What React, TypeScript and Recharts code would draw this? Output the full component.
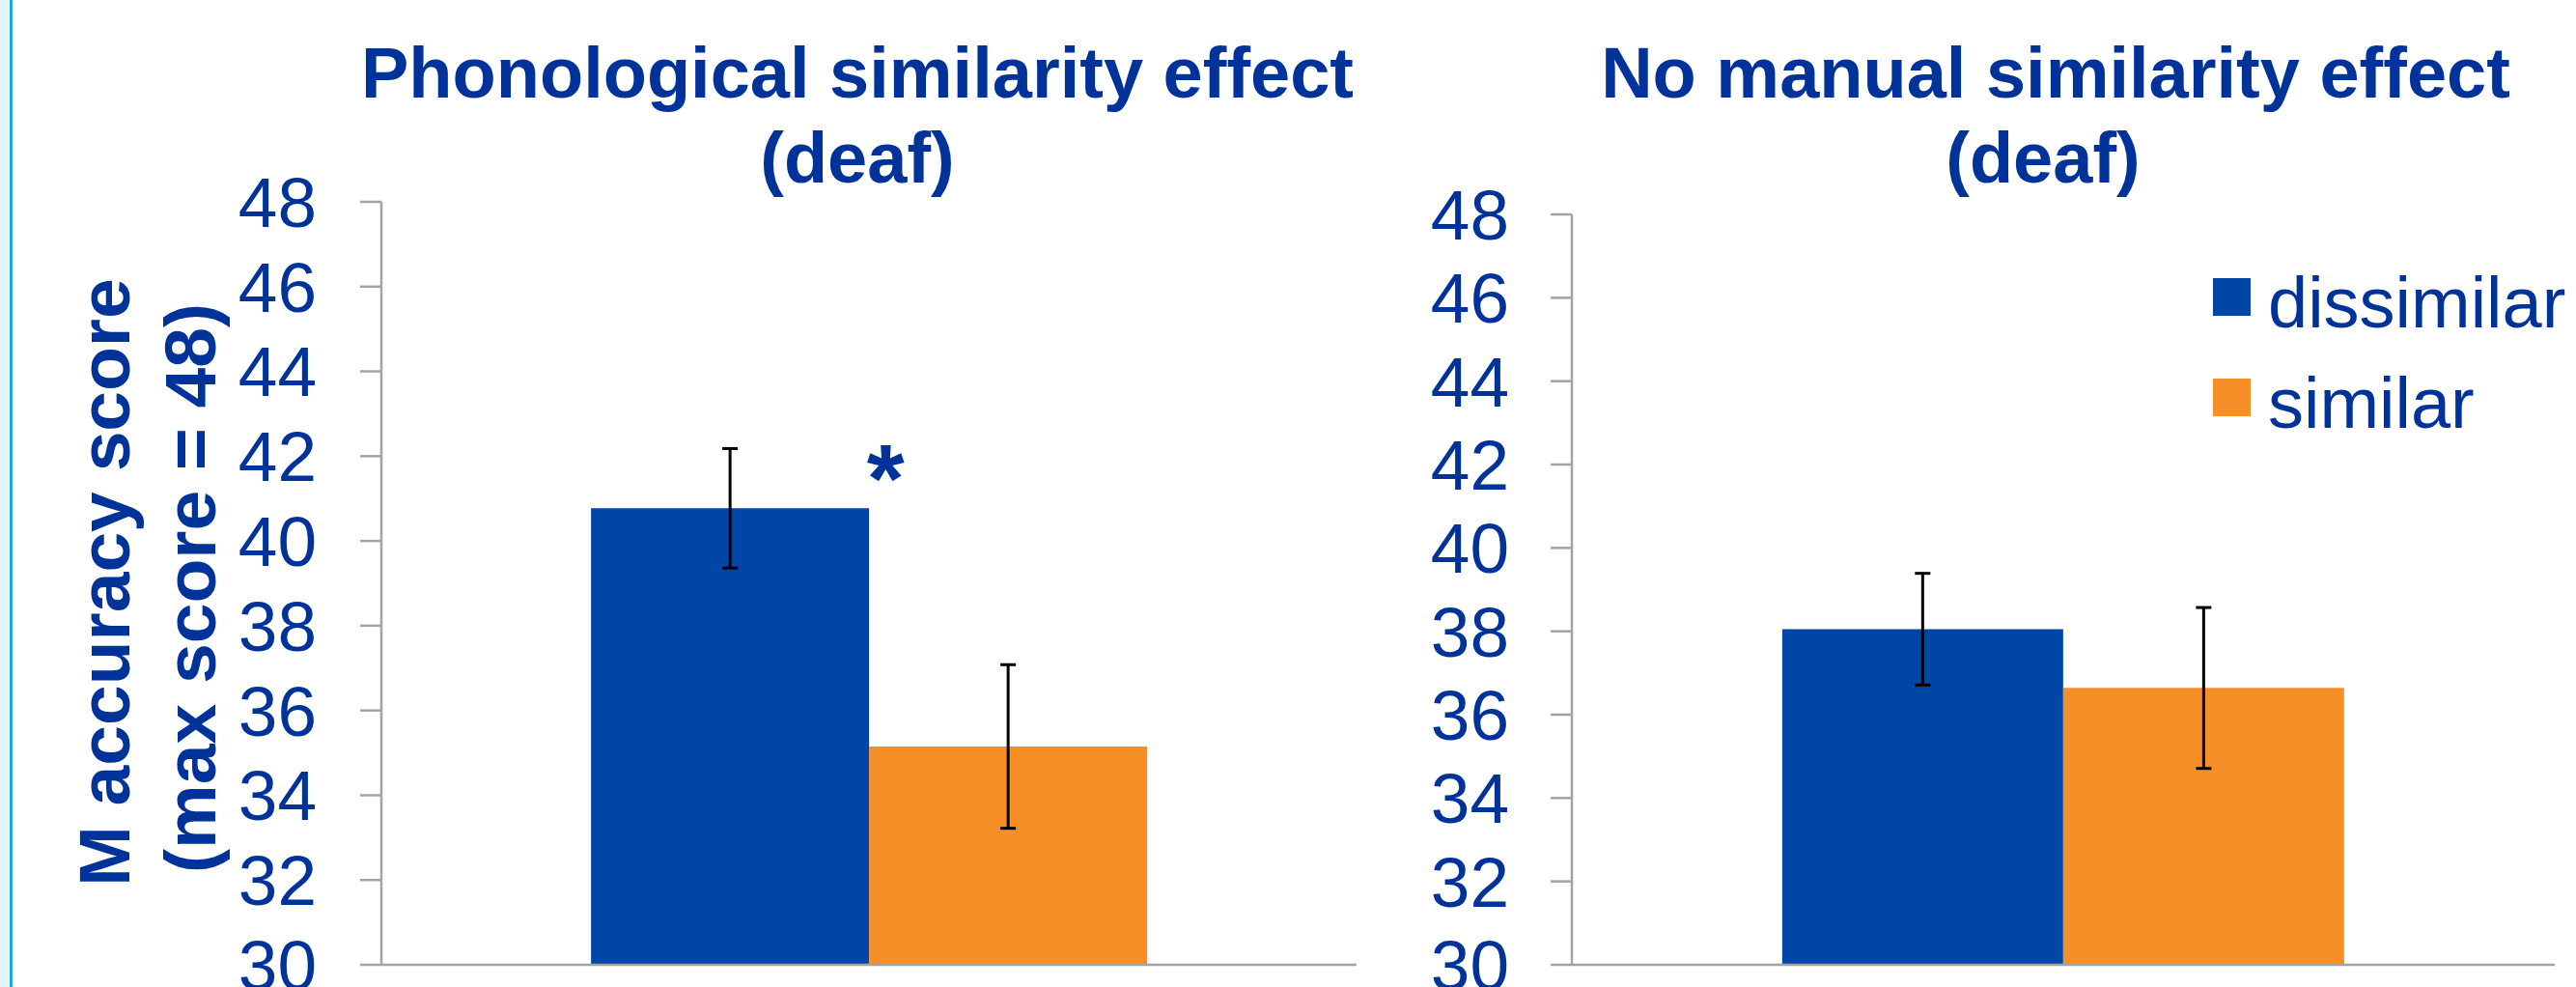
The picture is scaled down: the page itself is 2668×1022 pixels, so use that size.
import React from "react";
import { BarChart, Bar, XAxis, YAxis, ErrorBar, Legend, LabelList, ReferenceLine } from "recharts";

// one category per panel, two conditions inside it
const groups = ["deaf"];
const seriesNames = ["dissimilar", "similar"];
const seriesColors = ["#0046a6", "#f78f28"];

const phonoMeans = [40.77, 35.15];
const phonoErrors = [1.41, 1.93];

const manualMeans = [38.05, 36.64];
const manualErrors = [1.34, 1.93];

const yTicks = [30, 32, 34, 36, 38, 40, 42, 44, 46, 48];
const edgeTicks = [0, 1];

const TEXT = "#003399";
const AXIS = "#a3a3a3";
const FONT = "'Liberation Sans', Arial, sans-serif";

type Row = Record<string, string | number>;

function buildRows(means: number[], errors: number[]): Row[] {
  return groups.map((g) => {
    const row: Row = { group: g };
    seriesNames.forEach((s, i) => {
      row[s] = means[i];
      row[s + "Err"] = errors[i];
    });
    return row;
  });
}

const phonoRows = buildRows(phonoMeans, phonoErrors);
const manualRows = buildRows(manualMeans, manualErrors);

// significance marker next to the top of the dissimilar bar
const renderStar = (props: any) => {
  const { x, y, width } = props;
  return (
    <text
      x={Number(x) + Number(width) + 17}
      y={Number(y) + 4}
      textAnchor="middle"
      fill={TEXT}
      fontFamily={FONT}
      fontWeight="bold"
      fontSize={100}
    >
      *
    </text>
  );
};

const renderLegend = (props: any) => {
  const items = props.payload || [];
  return (
    <div style={{ fontFamily: FONT, fontSize: 74, color: TEXT }}>
      {items.map((item: any) => (
        <div
          key={item.value}
          style={{ display: "flex", alignItems: "center", height: 104, lineHeight: "104px", whiteSpace: "nowrap" }}
        >
          <span
            style={{
              display: "inline-block",
              width: 39,
              height: 39,
              background: item.color,
              marginRight: 18,
              position: "relative",
              top: -7,
            }}
          />
          <span>{item.value}</span>
        </div>
      ))}
    </div>
  );
};

type PanelProps = {
  data: Row[];
  width: number;
  top: number;
  right: number;
  yAxisWidth: number;
  tickMargin: number;
  gap: string;
  star?: boolean;
  legend?: boolean;
};

function Panel({ data, width, top, right, yAxisWidth, tickMargin, gap, star, legend }: PanelProps) {
  return (
    <BarChart
      width={width}
      height={1022}
      data={data}
      margin={{ top, right, bottom: 0, left: 0 }}
      barCategoryGap={gap}
      barGap={0}
    >
      <XAxis xAxisId="cat" dataKey="group" hide />
      {/* boundary axis: draws the baseline and the short ticks at both plot edges */}
      <XAxis
        xAxisId="edge"
        type="number"
        domain={[0, 1]}
        allowDataOverflow
        ticks={edgeTicks}
        tick={false}
        tickSize={23}
        height={23}
        axisLine={{ stroke: AXIS, strokeWidth: 2.5 }}
        tickLine={{ stroke: AXIS, strokeWidth: 2.5 }}
      />
      <YAxis
        domain={[30, 48]}
        ticks={yTicks}
        interval={0}
        width={yAxisWidth}
        tickSize={22}
        tickMargin={tickMargin}
        axisLine={{ stroke: AXIS, strokeWidth: 2.5 }}
        tickLine={{ stroke: AXIS, strokeWidth: 2.5 }}
        tick={{ fill: TEXT, fontSize: 73, fontFamily: FONT }}
      />
      <ReferenceLine xAxisId="cat" y={30} stroke={AXIS} strokeWidth={2.5} />
      {seriesNames.map((s, i) => (
        <Bar key={s} xAxisId="cat" dataKey={s} name={s} fill={seriesColors[i]} isAnimationActive={false}>
          <ErrorBar dataKey={s + "Err"} direction="y" width={8} stroke="#000" strokeWidth={3} />
          {star && i === 0 ? <LabelList dataKey={s} content={renderStar} /> : null}
        </Bar>
      ))}
      {legend ? (
        <Legend
          layout="vertical"
          align="center"
          verticalAlign="middle"
          wrapperStyle={{ left: 872, top: 262, width: "auto", height: "auto" }}
          content={renderLegend}
        />
      ) : null}
    </BarChart>
  );
}

const titleStyle: React.CSSProperties = {
  position: "absolute",
  width: 1400,
  textAlign: "center",
  fontFamily: FONT,
  fontWeight: "bold",
  fontSize: 74,
  lineHeight: "88px",
  color: TEXT,
  whiteSpace: "nowrap",
};

export default function App() {
  return (
    <div style={{ position: "absolute", left: 0, top: 0, width: 2668, height: 1022, background: "#fff", overflow: "hidden" }}>
      <div style={{ position: "absolute", left: 0, top: 0, width: 10, height: 1022, background: "#e3f2fc" }} />
      <div style={{ position: "absolute", left: 10, top: 0, width: 3, height: 1022, background: "#1fa8d8" }} />

      <div style={{ position: "absolute", left: 0, top: 0 }}>
        <Panel data={phonoRows} width={1420} top={209} right={15} yAxisWidth={395} tickMargin={45} gap="21.5%" star />
      </div>
      <div style={{ position: "absolute", left: 1420, top: 0 }}>
        <Panel data={manualRows} width={1248} top={222} right={22} yAxisWidth={208} tickMargin={43} gap="21.4%" legend />
      </div>

      <div style={{ ...titleStyle, left: 888 - 700, top: 32 }}>Phonological similarity effect</div>
      <div style={{ ...titleStyle, left: 888 - 700, top: 120 }}>(deaf)</div>
      <div style={{ ...titleStyle, left: 2129 - 700, top: 32 }}>No manual similarity effect</div>
      <div style={{ ...titleStyle, left: 2116 - 700, top: 120 }}>(deaf)</div>

      <svg style={{ position: "absolute", left: 0, top: 0 }} width={300} height={1022}>
        <g fill={TEXT} fontFamily={FONT} fontWeight="bold" fontSize={75} textAnchor="middle">
          <text transform="rotate(-90)" x={-603} y={134}>M accuracy score</text>
          <text transform="rotate(-90)" x={-609} y={223}>(max score = 48)</text>
        </g>
      </svg>
    </div>
  );
}
